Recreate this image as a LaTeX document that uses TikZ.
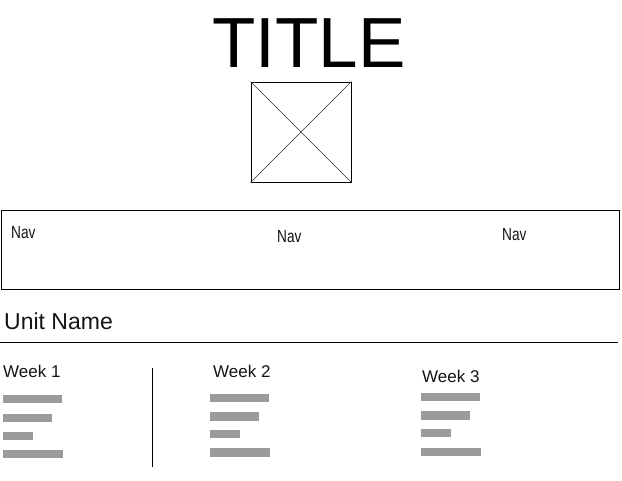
\documentclass[tikz,border=0pt]{standalone}
\usepackage{fontspec}
\setmainfont{Liberation Sans}
\definecolor{barg}{RGB}{155,155,155}
\definecolor{txt}{RGB}{20,20,20}
\begin{document}
\begin{tikzpicture}[x=1pt,y=-1pt,
  lbl/.style={anchor=base west,inner sep=0pt,text=txt},
  navtxt/.style={lbl,font=\fontsize{17.5}{17.5}\selectfont,xscale=0.78,transform shape},
  bar/.style={fill=barg,draw=none},
  frame/.style={draw=black,line width=0.9pt},
  thin/.style={draw=black!80,line width=0.5pt}]
\useasboundingbox (0,0) rectangle (622,480);
% title
\node[lbl,text=black,font=\fontsize{71}{71}\selectfont] (title) at (212,67) {TITLE};
% image placeholder
\node[frame,minimum width=100pt,minimum height=100pt,inner sep=0pt] (img) at (301,132) {};
\draw[thin] (img.north west) -- (img.south east);
\draw[thin] (img.north east) -- (img.south west);
% nav bar
\node[frame,minimum width=618.5pt,minimum height=79pt,inner sep=0pt,anchor=north west] (nav) at (0.5,210) {};
\node[navtxt] (nav1) at (11,238) {Nav};
\node[navtxt] (nav2) at (277,242.5) {Nav};
\node[navtxt] (nav3) at (502,240) {Nav};
% unit name
\node[lbl,font=\fontsize{23}{23}\selectfont] (unit) at (4,329) {Unit Name};
\coordinate (ul1) at (0,342);
\coordinate (ul2) at (618,342);
\draw[black,line width=0.9pt] (ul1) -- (ul2);
% weeks
\node[lbl,font=\fontsize{17}{17}\selectfont] (w1) at (3,377) {Week 1};
\node[lbl,font=\fontsize{17}{17}\selectfont] (w2) at (213,377) {Week 2};
\node[lbl,font=\fontsize{17}{17}\selectfont] (w3) at (422,382) {Week 3};
\coordinate (vl1) at (152,368);
\coordinate (vl2) at (152,467);
\draw[black,line width=0.9pt] (vl1) -- (vl2);
% bars week 1
\fill[bar] (3,395) rectangle (62,403);
\fill[bar] (3,414) rectangle (52,422);
\fill[bar] (3,432) rectangle (33,440);
\fill[bar] (3,450) rectangle (63,458);
% bars week 2
\fill[bar] (210,394) rectangle (269,402);
\fill[bar] (210,412) rectangle (259,421);
\fill[bar] (210,430) rectangle (240,438);
\fill[bar] (210,448) rectangle (270,457);
% bars week 3
\fill[bar] (421,393) rectangle (480,401);
\fill[bar] (421,411) rectangle (470,420);
\fill[bar] (421,429) rectangle (451,437);
\fill[bar] (421,448) rectangle (481,456);
\end{tikzpicture}
\end{document}
